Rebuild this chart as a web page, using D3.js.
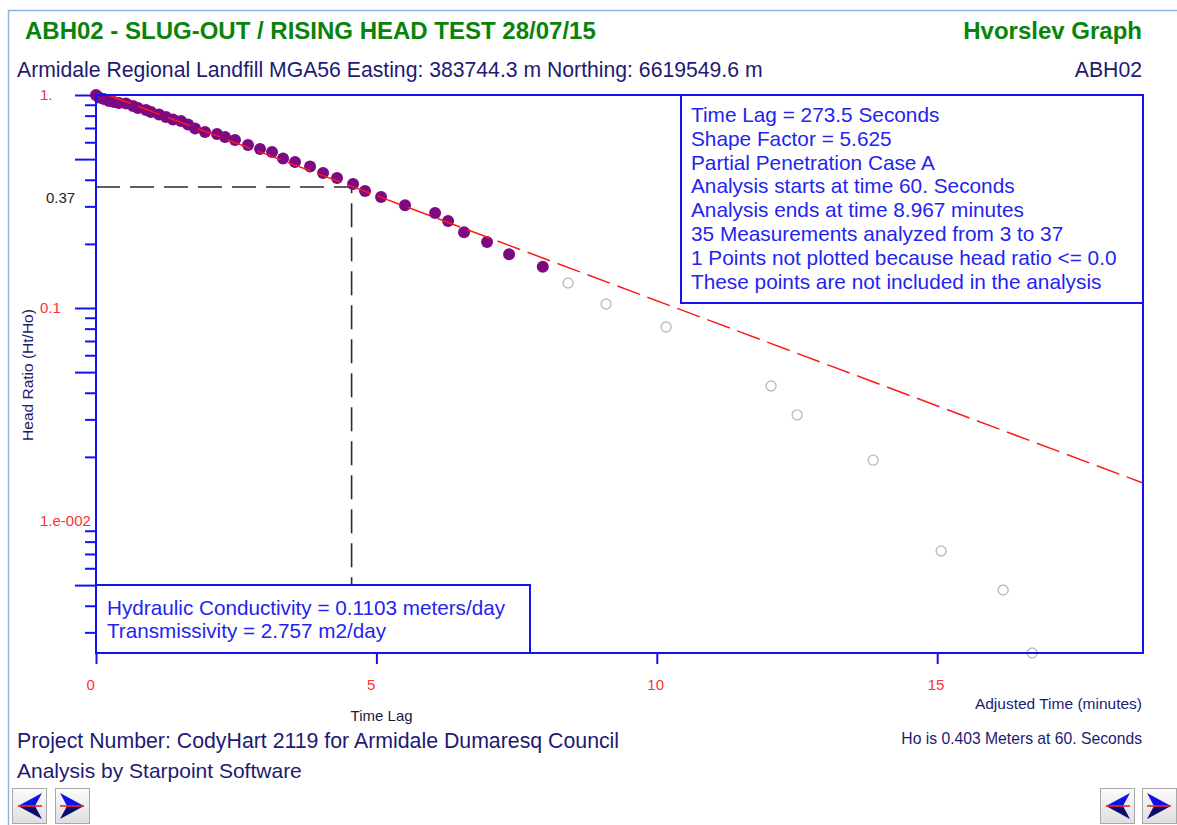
<!DOCTYPE html>
<html>
<head>
<meta charset="utf-8">
<script src="https://cdn.jsdelivr.net/npm/d3@7"></script>
<style>
  body { margin: 0; background: #fff; }
  svg { display: block; font-family: "Liberation Sans", Arial, sans-serif; }
</style>
</head>
<body>
<div class="chart"></div>
<script>
// measurements used in the fit (adjusted time in minutes, head ratio Ht/Ho)
var activeTime = [0, 0.054, 0.143, 0.232, 0.321, 0.410, 0.535, 0.660, 0.749, 0.892,
  0.981, 1.124, 1.248, 1.373, 1.516, 1.641, 1.766, 1.944, 2.158, 2.301,
  2.479, 2.711, 2.925, 3.139, 3.335, 3.549, 3.817, 4.049, 4.298, 4.584,
  4.798, 5.083, 5.511, 6.046, 6.278, 6.563, 6.973, 7.366, 7.967];
var activeRatio = [1.0, 0.973, 0.958, 0.937, 0.927, 0.917, 0.912, 0.888, 0.869, 0.850,
  0.832, 0.810, 0.788, 0.767, 0.755, 0.727, 0.696, 0.670, 0.656, 0.635,
  0.615, 0.582, 0.558, 0.540, 0.503, 0.485, 0.462, 0.430, 0.408, 0.382,
  0.354, 0.332, 0.304, 0.279, 0.256, 0.227, 0.204, 0.179, 0.156];

// points outside the analysis window
var excludedTime = [8.418, 9.096, 10.166, 12.038, 12.502, 13.858, 15.070, 16.176, 16.693];
var excludedRatio = [0.131, 0.1044, 0.0814, 0.0430, 0.0315, 0.0193, 0.00723, 0.00474, 0.0024];

// fitted straight line end points (clipped at the top of the plot)
var fitTime = [0.214, 18.67];
var fitRatio = [1.0, 0.01508];

var timeLagMin = 4.558;   // 273.5 s
var lagRatio = 0.37;

var xDomain = [0, 18.67];
var yDomain = [0.0024, 1];
var xTicks = [0, 5, 10, 15];
var yMajor = [1, 0.5, 0.1, 0.05, 0.005];
var yMinor = [0.9, 0.8, 0.7, 0.6, 0.4, 0.3, 0.2,
  0.09, 0.08, 0.07, 0.06, 0.04, 0.03, 0.02,
  0.009, 0.008, 0.007, 0.006, 0.004, 0.003];
var yLabelVals = [1, 0.1, 0.01];
var yLabelText = ["1.", "0.1", "1.e-002"];

var infoLines = [
  "Time Lag = 273.5 Seconds",
  "Shape Factor = 5.625",
  "Partial Penetration Case A",
  "Analysis starts at time 60. Seconds",
  "Analysis ends at time 8.967 minutes",
  "35 Measurements analyzed from 3 to 37",
  "1 Points not plotted because head ratio <= 0.0",
  "These points are not included in the analysis"
];
var resultLines = [
  "Hydraulic Conductivity = 0.1103 meters/day",
  "Transmissivity = 2.757 m2/day"
];

var W = 1177, H = 825;
var margin = {top: 95, right: 34, bottom: 172, left: 96};
var navy = "#1e1a72", blue = "#1414f0", red = "#ff3030", green = "#0a830a";

var svg = d3.select(".chart").append("svg")
    .attr("width", W)
    .attr("height", H);

svg.append("rect").attr("width", W).attr("height", H).attr("fill", "#fff");

// outer window frame
svg.append("path")
    .attr("d", "M8.5," + H + "V10.5H" + W)
    .attr("fill", "none")
    .attr("stroke", "#8fb3e0")
    .attr("stroke-width", 1.5);

var x = d3.scaleLinear()
    .domain(xDomain)
    .range([margin.left, W - margin.right]);

var y = d3.scaleLog()
    .domain(yDomain)
    .range([H - margin.bottom, margin.top]);

// titles
svg.append("text")
    .attr("x", 25).attr("y", 39)
    .attr("font-size", 24).attr("font-weight", "bold")
    .attr("fill", green)
    .text("ABH02 - SLUG-OUT / RISING HEAD TEST 28/07/15");
svg.append("text")
    .attr("x", 1142).attr("y", 39)
    .attr("text-anchor", "end")
    .attr("font-size", 24).attr("font-weight", "bold")
    .attr("fill", green)
    .text("Hvorslev Graph");
svg.append("text")
    .attr("x", 17).attr("y", 77)
    .attr("font-size", 21.2)
    .attr("fill", navy)
    .text("Armidale Regional Landfill MGA56 Easting: 383744.3 m Northing: 6619549.6 m");
svg.append("text")
    .attr("x", 1142).attr("y", 77)
    .attr("text-anchor", "end")
    .attr("font-size", 21.2)
    .attr("fill", navy)
    .text("ABH02");

// y axis ticks: long and short
var yMajorAxis = d3.axisLeft(y).tickValues(yMajor).tickSize(21).tickFormat("");
var yMinorAxis = d3.axisLeft(y).tickValues(yMinor).tickSize(11).tickFormat("");

[yMajorAxis, yMinorAxis].forEach(function(ax) {
  var g = svg.append("g")
      .attr("transform", "translate(" + margin.left + ",0)")
      .call(ax);
  g.select(".domain").remove();
  g.selectAll("line").attr("stroke", blue).attr("stroke-width", 2);
});

svg.selectAll(".ylab")
    .data(yLabelVals)
    .enter().append("text")
    .attr("class", "ylab")
    .attr("x", 40)
    .attr("y", function(d) { return y(d); })
    .attr("dy", "0.35em")
    .attr("font-size", 15)
    .attr("fill", red)
    .text(function(d, i) { return yLabelText[i]; });

svg.append("text")
    .attr("x", 46)
    .attr("y", y(lagRatio) + 11)
    .attr("dy", "0.35em")
    .attr("font-size", 15)
    .attr("fill", "#222")
    .text("0.37");

// x axis
var xAxis = d3.axisBottom(x).tickValues(xTicks).tickSize(11).tickFormat(d3.format("d"));
var gx = svg.append("g")
    .attr("transform", "translate(0," + (H - margin.bottom) + ")")
    .call(xAxis);
gx.select(".domain").remove();
gx.selectAll("line").attr("stroke", blue).attr("stroke-width", 2);
gx.selectAll("text")
    .attr("x", -10).attr("y", 26)
    .attr("text-anchor", "start")
    .attr("font-size", 15)
    .attr("font-family", "Liberation Sans, Arial, sans-serif")
    .attr("fill", red);

// axis titles
svg.append("text")
    .attr("transform", "translate(33,375) rotate(-90)")
    .attr("text-anchor", "middle")
    .attr("font-size", 15.5)
    .attr("fill", navy)
    .text("Head Ratio (Ht/Ho)");
svg.append("text")
    .attr("x", 1142).attr("y", 709)
    .attr("text-anchor", "end")
    .attr("font-size", 15.5)
    .attr("fill", navy)
    .text("Adjusted Time (minutes)");
svg.append("text")
    .attr("x", x(timeLagMin) - 1).attr("y", 721)
    .attr("font-size", 15)
    .attr("fill", "#1a1a40")
    .text("Time Lag");
svg.append("text")
    .attr("x", 1142).attr("y", 744)
    .attr("text-anchor", "end")
    .attr("font-size", 15.7)
    .attr("fill", navy)
    .text("Ho is 0.403 Meters at 60. Seconds");

// time lag guide lines
svg.append("path")
    .attr("d", d3.line()([
      [x(0), y(lagRatio)],
      [x(timeLagMin), y(lagRatio)],
      [x(timeLagMin), y(yDomain[0])]
    ]))
    .attr("fill", "none")
    .attr("stroke", "#2a2a2a")
    .attr("stroke-width", 1.6)
    .attr("stroke-dasharray", "24,10");

// excluded points
svg.selectAll(".excl")
    .data(excludedTime)
    .enter().append("circle")
    .attr("class", "excl")
    .attr("cx", function(d) { return x(d); })
    .attr("cy", function(d, i) { return y(excludedRatio[i]); })
    .attr("r", 5)
    .attr("fill", "#fff")
    .attr("stroke", "#bdbdbd")
    .attr("stroke-width", 1.4);

// analysed points
svg.selectAll(".pt")
    .data(activeTime)
    .enter().append("circle")
    .attr("class", "pt")
    .attr("cx", function(d) { return x(d); })
    .attr("cy", function(d, i) { return y(activeRatio[i]); })
    .attr("r", 6)
    .attr("fill", "#7d0a80");

// fitted line
var fitLine = d3.line()
    .x(function(d) { return x(d); })
    .y(function(d, i) { return y(fitRatio[i]); });
svg.append("path")
    .attr("d", fitLine(fitTime))
    .attr("fill", "none")
    .attr("stroke", "#ff1a1a")
    .attr("stroke-width", 1.5)
    .attr("stroke-dasharray", "24,8");

// info box
var bx0 = 681, bx1 = W - margin.right, by0 = margin.top, by1 = 303;
svg.append("rect")
    .attr("x", bx0).attr("y", by0)
    .attr("width", bx1 - bx0).attr("height", by1 - by0)
    .attr("fill", "#fff")
    .attr("stroke", blue).attr("stroke-width", 2);
svg.selectAll(".info")
    .data(infoLines)
    .enter().append("text")
    .attr("class", "info")
    .attr("x", 691)
    .attr("y", function(d, i) { return 122 + i * 23.8; })
    .attr("font-size", 20.8)
    .attr("fill", "#2424ee")
    .text(function(d) { return d; });

// results box
var rx1 = 530, ry0 = 585, ry1 = H - margin.bottom;
svg.append("rect")
    .attr("x", margin.left).attr("y", ry0)
    .attr("width", rx1 - margin.left).attr("height", ry1 - ry0)
    .attr("fill", "#fff")
    .attr("stroke", blue).attr("stroke-width", 2);
svg.selectAll(".res")
    .data(resultLines)
    .enter().append("text")
    .attr("class", "res")
    .attr("x", 107)
    .attr("y", function(d, i) { return 615 + i * 23; })
    .attr("font-size", 20.7)
    .attr("fill", "#2424ee")
    .text(function(d) { return d; });

// plot frame
svg.append("rect")
    .attr("x", margin.left).attr("y", margin.top)
    .attr("width", W - margin.right - margin.left)
    .attr("height", H - margin.bottom - margin.top)
    .attr("fill", "none")
    .attr("stroke", blue).attr("stroke-width", 2);

// footer
svg.append("text")
    .attr("x", 17).attr("y", 748)
    .attr("font-size", 21.3)
    .attr("fill", navy)
    .text("Project Number: CodyHart 2119 for Armidale Dumaresq Council");
svg.append("text")
    .attr("x", 17).attr("y", 778)
    .attr("font-size", 21)
    .attr("fill", navy)
    .text("Analysis by Starpoint Software");

// navigation buttons
var grad = svg.append("defs").append("linearGradient")
    .attr("id", "btn").attr("x1", 0).attr("y1", 0).attr("x2", 0).attr("y2", 1);
grad.append("stop").attr("offset", "0%").attr("stop-color", "#fbfbfb");
grad.append("stop").attr("offset", "100%").attr("stop-color", "#dedede");

var buttons = [{x: 12, dir: -1}, {x: 55, dir: 1}, {x: 1100, dir: -1}, {x: 1142, dir: 1}];
buttons.forEach(function(b) {
  var g = svg.append("g").attr("transform", "translate(" + b.x + ",788)");
  g.append("rect")
      .attr("x", 0.5).attr("y", 0.5).attr("width", 34).attr("height", 35)
      .attr("fill", "url(#btn)")
      .attr("stroke", "#a8a8a8");
  var tip = b.dir < 0 ? 6 : 29, back = b.dir < 0 ? 30 : 5, notch = b.dir < 0 ? 23 : 12;
  g.append("path")
      .attr("d", "M" + tip + ",18L" + back + ",5L" + notch + ",18Z")
      .attr("fill", "#1010e8");
  g.append("path")
      .attr("d", "M" + tip + ",18L" + back + ",31L" + notch + ",18Z")
      .attr("fill", "#0a0a70");
  g.append("line")
      .attr("x1", Math.min(tip, back)).attr("x2", Math.max(tip, back))
      .attr("y1", 18).attr("y2", 18)
      .attr("stroke", "#ff2020").attr("stroke-width", 1.6);
});
</script>
</body>
</html>
